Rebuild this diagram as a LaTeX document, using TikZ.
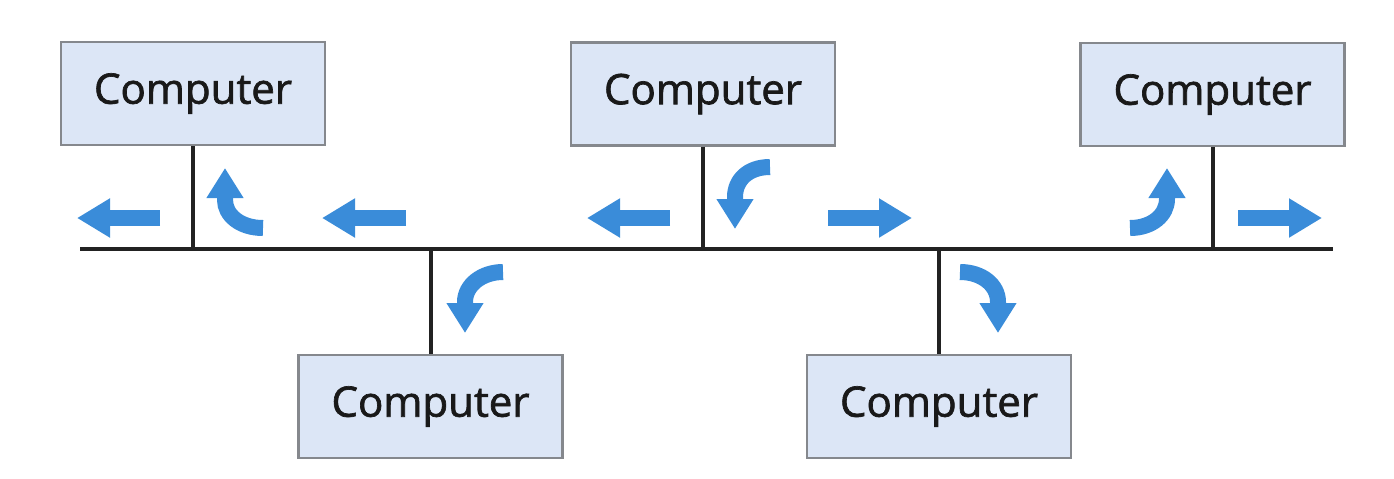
\documentclass[tikz,border=0pt]{standalone}
\usepackage{fontspec}
\setmainfont{Open Sans}
\newfontfamily\boxfont{Open Sans}[FakeBold=1.6]
\usetikzlibrary{arrows.meta}
\definecolor{boxfill}{HTML}{DCE6F6}
\definecolor{boxline}{HTML}{85888D}
\definecolor{flow}{HTML}{3A8CD9}
\definecolor{wire}{HTML}{222222}
\tikzset{
  computer/.style={draw=boxline, line width=1.2pt, fill=boxfill, minimum width=132pt, minimum height=51.5pt, inner sep=0pt, font=\boxfont\fontsize{21}{24}\selectfont\color{black!90}},
  wireline/.style={draw=wire, line width=2pt},
  flatarrow/.style={draw=flow, line width=8pt, -{Triangle[length=16.5pt, width=18.5pt]}},
  bentarrow/.style={draw=flow, line width=8pt, -{Triangle[length=15pt, width=17.5pt]}},
}
\begin{document}
\begin{tikzpicture}[x=0.5pt,y=-0.5pt]
\useasboundingbox (0,0) rectangle (1394,478);
% bus
\coordinate (busL) at (80,249);
\coordinate (busR) at (1333,249);
% computers
\node[computer] (c1) at (193,93.5) {Computer};
\node[computer] (c2) at (703,94) {Computer};
\node[computer] (c3) at (1212.5,94.5) {Computer};
\node[computer] (c4) at (430.5,406.5) {Computer};
\node[computer] (c5) at (939,406.5) {Computer};
\draw[wireline] (busL) -- (busR);
\draw[wireline] (c1.south) -- (c1.south |- busL);
\draw[wireline] (c2.south) -- (c2.south |- busL);
\draw[wireline] (c3.south) -- (c3.south |- busL);
\draw[wireline] (c4.north) -- (c4.north |- busL);
\draw[wireline] (c5.north) -- (c5.north |- busL);
% straight arrows
\draw[flatarrow] (160,218) -- (77,218);
\draw[flatarrow] (406,218) -- (322,218);
\draw[flatarrow] (670,218) -- (587,218);
\draw[flatarrow] (828,218) -- (912,218);
\draw[flatarrow] (1238,218) -- (1322,218);
% bent arrows
\draw[bentarrow] (263,228) .. controls (240,228) and (225,215) .. (225,200) -- (225,168);
\draw[bentarrow] (770,167) .. controls (748,167) and (735,180) .. (735,197) -- (735,229);
\draw[bentarrow] (1130,228) .. controls (1152,228) and (1167,215) .. (1167,199) -- (1167,168);
\draw[bentarrow] (503,272) .. controls (482,272) and (465,285) .. (465,302) -- (465,333);
\draw[bentarrow] (960,272) .. controls (982,272) and (998,285) .. (998,302) -- (998,333);
\end{tikzpicture}
\end{document}
